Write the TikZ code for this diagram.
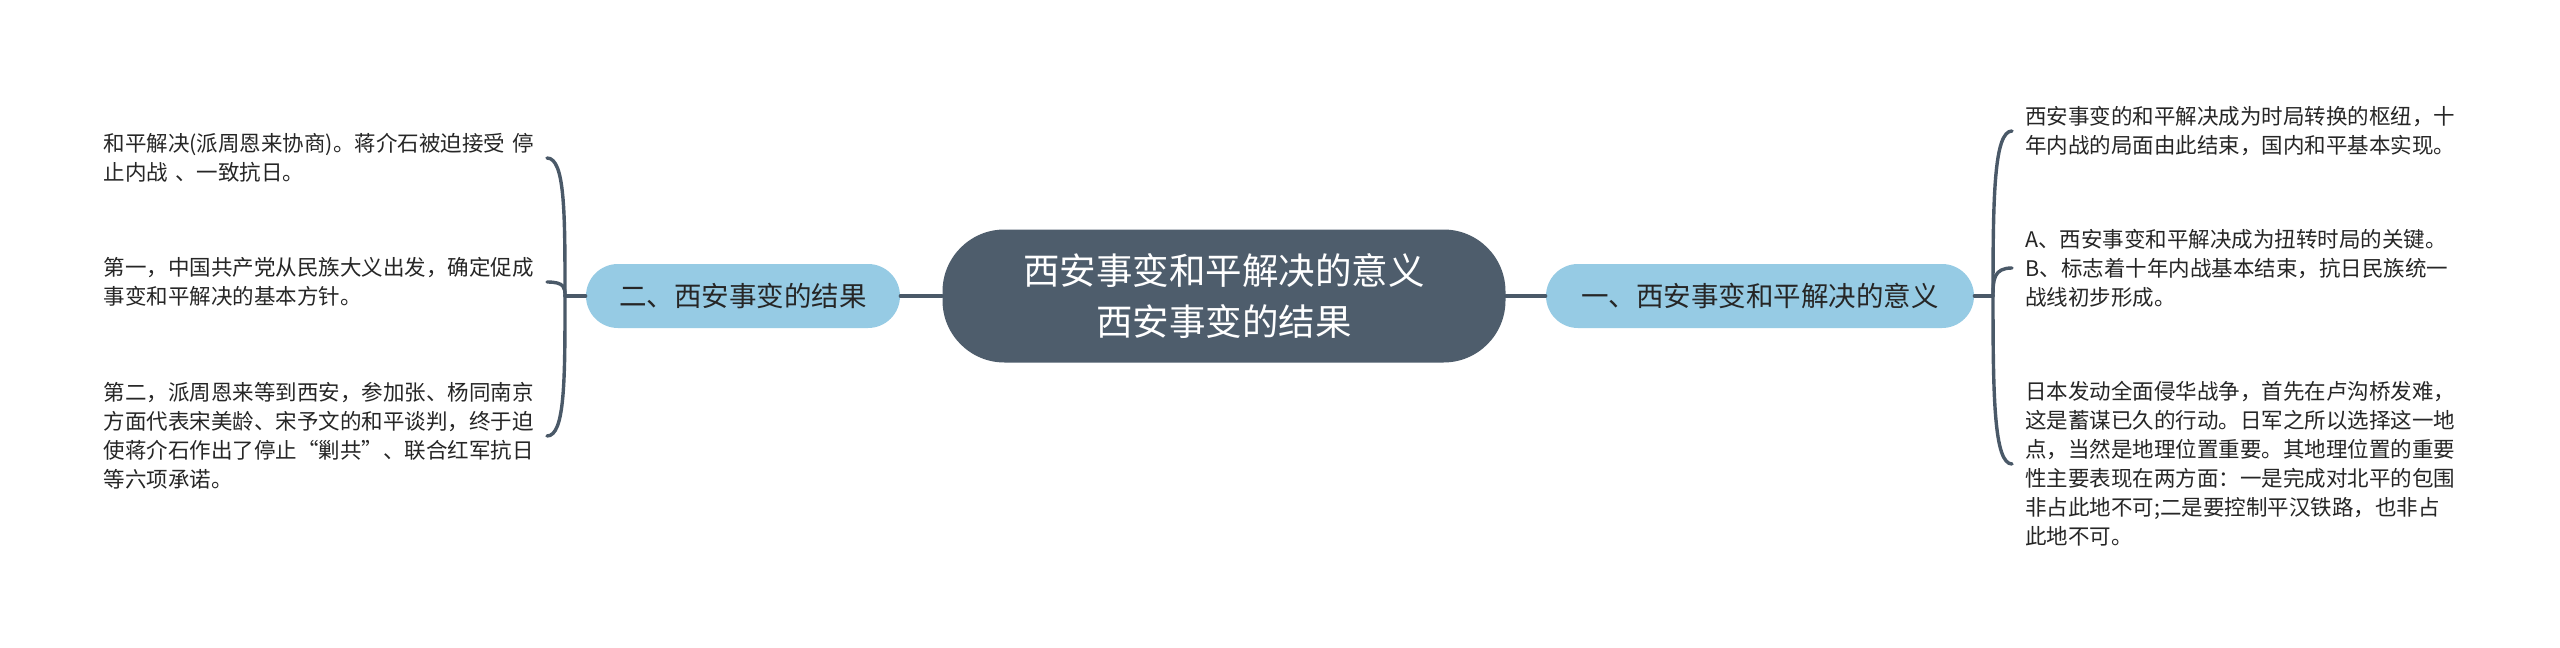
\documentclass[tikz,border=0pt]{standalone}
\usepackage{fontspec}
\newfontfamily\cjk{Noto Sans CJK SC}
\definecolor{linec}{RGB}{74,89,104}
\definecolor{rootc}{RGB}{78,93,108}
\definecolor{branchc}{RGB}{150,203,228}
\definecolor{textc}{RGB}{38,38,38}
\begin{document}
\begin{tikzpicture}[x=0.5pt,y=-0.5pt,
  conn/.style={draw=linec,line width=1.7pt,line cap=round},
  root/.style={rectangle,rounded corners=31pt,fill=rootc,minimum width=281.5pt,minimum height=66.5pt,align=center,text=white,inner sep=0pt,font=\cjk\fontsize{18.25pt}{25.5pt}\selectfont},
  branch/.style={rectangle,rounded corners=16pt,fill=branchc,minimum height=32pt,text=textc,inner sep=0pt,font=\cjk\fontsize{13.75pt}{16pt}\selectfont},
  leafl/.style={anchor=east,text width=220pt,align=left,inner xsep=1.5pt,inner ysep=0pt,text=textc,font=\cjk\fontsize{10.75pt}{14.5pt}\selectfont},
  leafr/.style={anchor=west,text width=220pt,align=left,inner xsep=6.5pt,inner ysep=0pt,text=textc,font=\cjk\fontsize{10.75pt}{14.5pt}\selectfont}]
\fill[white] (0,0) rectangle (2560,648);
\useasboundingbox (0,0) rectangle (2560,648);

\node[root] (root) at (1224,296) {西安事变和平解决的意义\\西安事变的结果};
\node[branch,minimum width=157pt] (bl) at (743,296) {二、西安事变的结果};
\node[branch,minimum width=214pt] (br) at (1760,296) {一、西安事变和平解决的意义};

\coordinate (jl) at (565,296);
\coordinate (jr) at (1993,296);

\node[leafl] (l1) at (547,158) {和平解决(派周恩来协商)。蒋介石被迫接受 停\\止内战 、一致抗日。};
\node[leafl] (l2) at (547,282) {第一，中国共产党从民族大义出发，确定促成\\事变和平解决的基本方针。};
\node[leafl] (l3) at (547,436) {第二，派周恩来等到西安，参加张、杨同南京\\方面代表宋美龄、宋予文的和平谈判，终于迫\\使蒋介石作出了停止“剿共”、联合红军抗日\\等六项承诺。};

\node[leafr] (r1) at (2012,131) {西安事变的和平解决成为时局转换的枢纽，十\\年内战的局面由此结束，国内和平基本实现。};
\node[leafr] (r2) at (2012,268) {A、西安事变和平解决成为扭转时局的关键。\\B、标志着十年内战基本结束，抗日民族统一\\战线初步形成。};
\node[leafr] (r3) at (2012,464) {日本发动全面侵华战争，首先在卢沟桥发难，\\这是蓄谋已久的行动。日军之所以选择这一地\\点，当然是地理位置重要。其地理位置的重要\\性主要表现在两方面：一是完成对北平的包围\\非占此地不可;二是要控制平汉铁路，也非占\\此地不可。};

\draw[conn] (root.west) -- (bl.east);
\draw[conn] (root.east) -- (br.west);
\draw[conn] (bl.west) -- (jl);
\draw[conn] (br.east) -- (jr);

\draw[conn] (jl) .. controls +(0,-83) and +(18,0) .. (l1.east);
\draw[conn] (jl) .. controls +(0,-8) and +(18,0) .. (l2.east);
\draw[conn] (jl) .. controls +(0,84) and +(18,0) .. (l3.east);

\draw[conn] (jr) .. controls +(0,-99) and +(-18,0) .. (r1.west);
\draw[conn] (jr) .. controls +(0,-17) and +(-18,0) .. (r2.west);
\draw[conn] (jr) .. controls +(0,100) and +(-18,0) .. (r3.west);
\end{tikzpicture}
\end{document}
